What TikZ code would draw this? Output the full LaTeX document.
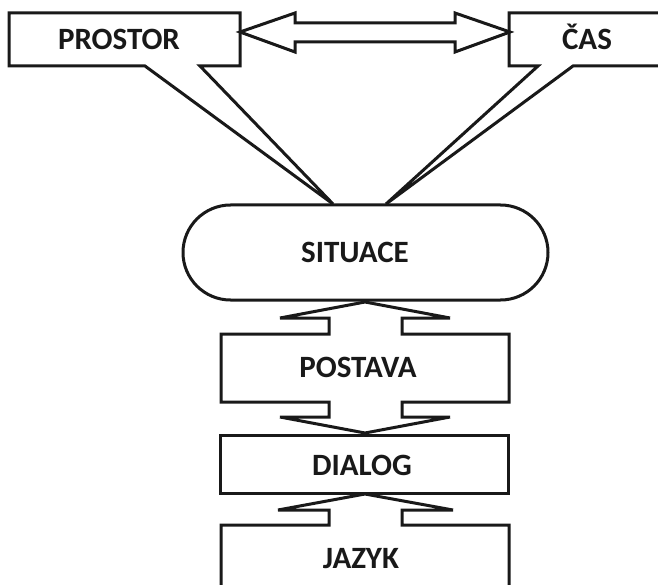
\documentclass[tikz,border=0pt]{standalone}
\usepackage{fontspec}
\setmainfont{Carlito}
\tikzset{
  outline/.style={draw=black!90, line width=3pt, fill=white, line join=miter},
  label/.style={font=\fontsize{31}{31}\selectfont\bfseries, inner sep=0pt, anchor=base, text=black!90}
}
\begin{document}
\begin{tikzpicture}[x=1pt,y=-1pt]
\useasboundingbox (0,0) rectangle (658,585);
\clip (0,0) rectangle (658,585);

% tips of the two callout pointers, on top of the situation shape
\coordinate (tipL) at (333,204);
\coordinate (tipR) at (386,204);

% PROSTOR callout box
\draw[outline] (9,13) -- (240,13) -- (240,66) -- (200,66) -- (tipL) -- (145,66) -- (9,66) -- cycle;
% CAS callout box (runs past the right edge)
\draw[outline] (509,13) -- (670,13) -- (670,66) -- (573,66) -- (tipR) -- (538,66) -- (509,66) -- cycle;

% two-headed arrow between the boxes
\draw[outline] (240,32) -- (295,13) -- (295,23) -- (455,23) -- (455,13) -- (510,32)
  -- (455,52) -- (455,42) -- (295,42) -- (295,52) -- cycle;

% SITUACE stadium
\draw[outline] (230.5,205) -- (500.5,205) arc[start angle=-90, end angle=90, radius=47.5]
  -- (230.5,300) arc[start angle=90, end angle=270, radius=47.5] -- cycle;

% POSTAVA box with arrows up and down
\draw[outline] (221,334) -- (329,334) -- (329,318) -- (280,318) -- (365,302) -- (450,318)
  -- (402,318) -- (402,334) -- (509,334) -- (509,402) -- (402,402) -- (402,417)
  -- (450,417) -- (365,433) -- (280,417) -- (329,417) -- (329,402) -- (221,402) -- cycle;

% DIALOG box
\draw[outline] (220,435) rectangle (508,493);

% JAZYK box with arrow up (runs past the bottom edge)
\draw[outline] (221,600) -- (221,525) -- (329,525) -- (329,510) -- (278,510) -- (365,494)
  -- (453,510) -- (402,510) -- (402,525) -- (509,525) -- (509,600);

% labels
\node[label] (prostor) at (119,50) {PROSTOR};
\node[label] (cas) at (587,50) {ČAS};
\node[label] (situace) at (355,262) {SITUACE};
\node[label] (postava) at (358,377) {POSTAVA};
\node[label] (dialog) at (362,475) {DIALOG};
\node[label] (jazyk) at (361,568) {JAZYK};
\end{tikzpicture}
\end{document}
